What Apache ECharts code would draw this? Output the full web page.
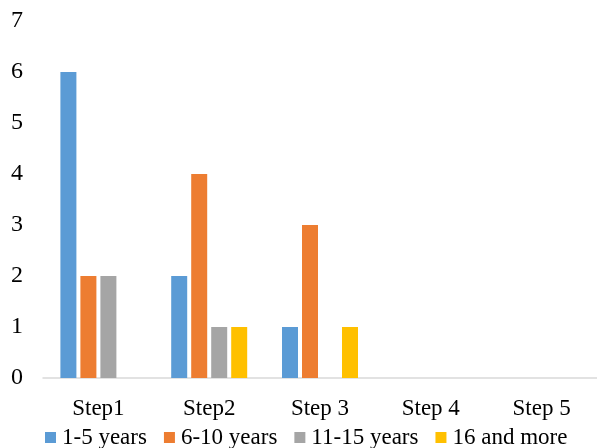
<!DOCTYPE html>
<html><head><meta charset="utf-8">
<script src="https://cdn.jsdelivr.net/npm/echarts@6/dist/echarts.min.js"></script>
<style>html,body{margin:0;padding:0;background:#fff}#c{width:597px;height:448px}</style>
</head><body><div id="c"></div>
<script>
var categories = ['Step1', 'Step2', 'Step 3', 'Step 4', 'Step 5'];
var seriesNames = ['1-5 years', '6-10 years', '11-15 years', '16 and more'];
var s1 = [6, 2, 1, 0, 0];
var s2 = [2, 4, 3, 0, 0];
var s3 = [2, 1, 0, 0, 0];
var s4 = [0, 1, 1, 0, 0];
var yTicks = [0, 1, 2, 3, 4, 5, 6, 7];
var colors = ['#5B9BD5', '#ED7D31', '#A5A5A5', '#FFC000'];
var font = 'Liberation Serif, Times New Roman, serif';
var values = [s1, s2, s3, s4];
var chart = echarts.init(document.getElementById('c'));
chart.setOption({
  animation: false,
  textStyle: {fontFamily: font},
  grid: {left: 43, right: 0, top: 21, bottom: 70},
  legend: {
    top: 426, left: 45, itemWidth: 11, itemHeight: 11, itemGap: 17,
    icon: 'rect', padding: 0,
    textStyle: {fontFamily: font, fontSize: 23, color: '#000', padding: [0, 0, 0, 1]},
    data: seriesNames
  },
  xAxis: {
    type: 'category', data: categories,
    axisLine: {lineStyle: {color: '#D9D9D9', width: 1.5}},
    axisTick: {show: false},
    axisLabel: {fontFamily: font, fontSize: 23, color: '#000', margin: 19}
  },
  yAxis: {
    type: 'value', min: 0, max: 7, interval: 1,
    axisLine: {show: false}, axisTick: {show: false},
    splitLine: {show: false},
    axisLabel: {fontFamily: font, fontSize: 24, color: '#000', margin: 20,
      formatter: function (v) { return yTicks.indexOf(v) >= 0 ? String(v) : ''; }}
  },
  series: seriesNames.map(function (n, i) {
    return {
      name: n, type: 'bar', data: values[i], barWidth: 16, barGap: '25%',
      itemStyle: {color: colors[i]}
    };
  })
});
</script></body></html>
